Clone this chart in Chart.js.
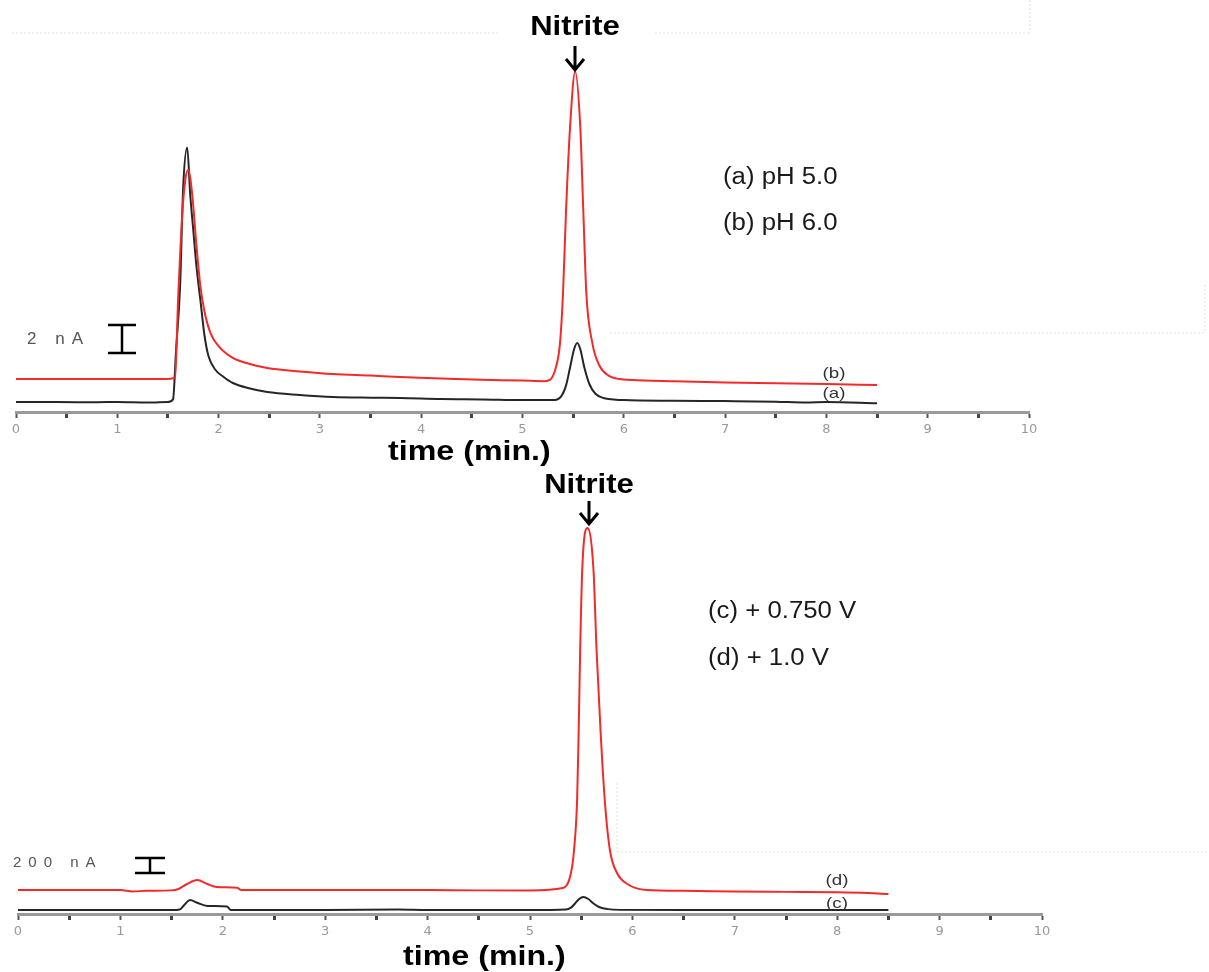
<!DOCTYPE html>
<html>
<head>
<meta charset="utf-8">
<title>Nitrite chromatograms</title>
<script src="https://cdn.jsdelivr.net/npm/chart.js@4.4.1/dist/chart.umd.min.js"></script>
<style>
    html, body { margin: 0; padding: 0; background: #fff; }
    #page { position: relative; width: 1209px; height: 972px; overflow: hidden; }
    .panel { position: absolute; left: 0; width: 1209px; }
    #topPanel { top: 0; height: 470px; }
    #bottomPanel { top: 470px; height: 502px; }
</style>
</head>
<body>
<div id="page">
    <div class="panel" id="topPanel"><canvas id="topChart" width="1209" height="470"></canvas></div>
    <div class="panel" id="bottomPanel"><canvas id="bottomChart" width="1209" height="502"></canvas></div>
</div>
<script>
/**
 * Two chromatograms (current vs. time), nitrite peak near 5.5 min.
 * Top: pH 5.0 / pH 6.0, bottom: +0.750 V / +1.0 V.
 */

// ---- data (time in min., current in nA) ----
const xTicks = [0, 1, 2, 3, 4, 5, 6, 7, 8, 9, 10];

// (a) pH 5.0
const timeA = [0, 0.4, 0.8, 1.0, 1.3, 1.5, 1.55, 1.58, 1.62, 1.65, 1.69, 1.72, 1.75, 1.78, 1.82, 1.86,
    1.9, 1.97, 2.05, 2.14, 2.3, 2.48, 2.8, 3.13, 3.5, 3.79, 4.2, 4.6, 5.0, 5.3, 5.38, 5.43, 5.47, 5.51,
    5.54, 5.57, 5.61, 5.66, 5.72, 5.8, 5.9, 6.0, 6.5, 7.0, 7.5, 7.8, 8.0, 8.5];
const currentA = [0.71, 0.71, 0.7, 0.72, 0.68, 0.72, 0.9, 4.4, 9.0, 16.0, 18.9, 15.5, 13.0, 10.5, 8.0, 5.5,
    4.0, 3.0, 2.5, 2.07, 1.7, 1.43, 1.22, 1.07, 1.02, 1.0, 0.92, 0.9, 0.85, 0.85, 1.1, 1.9, 3.2, 4.5,
    4.93, 4.5, 3.2, 2.0, 1.3, 1.0, 0.9, 0.85, 0.8, 0.78, 0.74, 0.68, 0.72, 0.62];

// (b) pH 6.0
const timeB = [0, 0.4, 0.8, 1.2, 1.5, 1.57, 1.6, 1.64, 1.67, 1.70, 1.74, 1.78, 1.82, 1.86, 1.92, 2.0,
    2.14, 2.3, 2.48, 2.8, 3.13, 3.5, 3.79, 4.2, 4.6, 5.0, 5.2, 5.27, 5.33, 5.37, 5.40, 5.43, 5.47, 5.52,
    5.57, 5.60, 5.63, 5.69, 5.76, 5.85, 5.96, 6.2, 6.5, 7.0, 7.5, 8.0, 8.5];
const currentB = [2.36, 2.36, 2.36, 2.36, 2.36, 2.45, 8.0, 14.0, 16.5, 17.3, 15.5, 12.0, 9.0, 7.2, 5.64, 4.7,
    3.86, 3.45, 3.14, 2.9, 2.71, 2.6, 2.5, 2.4, 2.3, 2.25, 2.2, 2.3, 3.2, 4.9, 8.5, 14.4, 20.4, 24.3,
    20.4, 14.4, 8.5, 4.9, 3.3, 2.6, 2.35, 2.25, 2.2, 2.1, 2.05, 2.0, 1.93];

// (c) +0.750 V
const timeC = [0, 1.0, 1.5, 1.58, 1.63, 1.68, 1.75, 1.85, 2.04, 2.08, 3.0, 3.72, 4.0, 5.0, 5.35, 5.40,
    5.44, 5.48, 5.52, 5.57, 5.62, 5.68, 5.76, 5.88, 6.5, 7.5, 8.5];
const currentC = [53, 53, 53, 60, 130, 187, 150, 107, 100, 53, 53, 60, 53, 53, 60, 85,
    140, 200, 227, 200, 140, 90, 65, 55, 53, 53, 53];

// (d) +1.0 V
const timeD = [0, 0.5, 1.0, 1.12, 1.25, 1.5, 1.56, 1.65, 1.75, 1.85, 1.94, 2.14, 2.18, 2.5, 3.0, 3.5,
    4.0, 4.5, 5.0, 5.32, 5.40, 5.43, 5.46, 5.475, 5.49, 5.51, 5.56, 5.62, 5.65, 5.69, 5.73, 5.78, 5.85,
    5.95, 6.14, 6.5, 7.0, 7.5, 8.0, 8.3, 8.5];
const currentD = [320, 320, 320, 300, 310, 315, 330, 400, 453, 400, 360, 350, 320, 320, 320, 320,
    320, 315, 315, 347, 547, 853, 1520, 2413, 3520, 4587, 5147, 4587, 3520, 2413, 1520, 853, 547,
    400, 320, 310, 300, 295, 290, 280, 267];

const RED = '#f42a2a';
const BLACK = '#262626';
const SANS = "'Liberation Sans', Arial, sans-serif";

/** Draws labels, arrows, scale bars and faint frame lines on top of a chart */
function notesPlugin(spec) {
    return {
        id: 'notes',
        beforeDraw(chart) {
            const ctx = chart.ctx;
            ctx.save();
            ctx.strokeStyle = '#eadede';
            ctx.lineWidth = 1;
            ctx.setLineDash([2, 2]);
            (spec.dotted || []).forEach(([x1, y1, x2, y2]) => {
                ctx.beginPath();
                ctx.moveTo(x1, y1);
                ctx.lineTo(x2, y2);
                ctx.stroke();
            });
            ctx.restore();
        },
        afterDraw(chart) {
            const ctx = chart.ctx;
            (spec.texts || []).forEach(t => {
                ctx.save();
                ctx.font = t.font;
                ctx.fillStyle = t.color || '#111';
                ctx.textAlign = t.align || 'left';
                ctx.textBaseline = 'middle';
                if (t.spacing && 'letterSpacing' in ctx) ctx.letterSpacing = t.spacing;
                ctx.translate(t.x, t.y);
                ctx.scale(t.stretch || 1, 1);
                ctx.fillText(t.text, 0, 0);
                ctx.restore();
            });
            (spec.arrows || []).forEach(a => {
                ctx.save();
                ctx.strokeStyle = '#000';
                ctx.lineWidth = 3;
                ctx.beginPath();
                ctx.moveTo(a.x, a.y1);
                ctx.lineTo(a.x, a.y2);
                ctx.moveTo(a.x - 9, a.y2 - 11);
                ctx.lineTo(a.x, a.y2);
                ctx.lineTo(a.x + 9, a.y2 - 11);
                ctx.stroke();
                ctx.restore();
            });
            (spec.bars || []).forEach(b => {
                ctx.save();
                ctx.strokeStyle = '#000';
                ctx.lineWidth = 2.5;
                ctx.beginPath();
                ctx.moveTo(b.x, b.y1);
                ctx.lineTo(b.x, b.y2);
                ctx.moveTo(b.x - b.hw, b.y1);
                ctx.lineTo(b.x + b.hw, b.y1);
                ctx.moveTo(b.x - b.hw, b.y2);
                ctx.lineTo(b.x + b.hw, b.y2);
                ctx.stroke();
                ctx.restore();
            });
        }
    };
}

function trace(times, values, color) {
    return {
        data: times.map((t, i) => ({ x: t, y: values[i] })),
        borderColor: color,
        borderWidth: 2,
        pointRadius: 0,
        fill: false,
        cubicInterpolationMode: 'monotone'
    };
}

function makeChromatogram(canvasId, datasets, cfg) {
    return new Chart(document.getElementById(canvasId), {
        type: 'line',
        data: { datasets: datasets },
        options: {
            responsive: false,
            animation: false,
            layout: { padding: cfg.padding },
            plugins: {
                legend: { display: false },
                tooltip: { enabled: false }
            },
            scales: {
                x: {
                    type: 'linear',
                    min: xTicks[0],
                    max: xTicks[xTicks.length - 1],
                    afterFit: scale => { scale.height = cfg.axisHeight; },
                    border: { color: '#9a9a9a', width: 3 },
                    grid: {
                        drawOnChartArea: false,
                        drawTicks: true,
                        tickLength: 6,
                        tickWidth: ctx => Number.isInteger(ctx.tick.value) ? 2 : 3,
                        tickColor: ctx => Number.isInteger(ctx.tick.value) ? '#555' : '#444'
                    },
                    ticks: {
                        stepSize: 0.5,
                        maxTicksLimit: 21,
                        autoSkip: false,
                        maxRotation: 0,
                        padding: 4,
                        color: '#999',
                        font: { family: "'DejaVu Sans', sans-serif", size: 13 },
                        callback: v => xTicks.includes(v) ? String(v) : ''
                    }
                },
                y: { display: false, min: 0, max: cfg.yMax }
            }
        },
        plugins: [notesPlugin(cfg.notes)]
    });
}

// Top panel: pH comparison
makeChromatogram('topChart', [
    trace(timeB, currentB, RED),
    trace(timeA, currentA, BLACK)
], {
    padding: { left: 16, right: 180, top: 48, bottom: 0 },
    axisHeight: 58,
    yMax: 26,
    notes: {
        dotted: [[12, 33, 500, 33], [655, 33, 1030, 33], [1030, 0, 1030, 33],
                 [610, 333, 1205, 333], [1205, 285, 1205, 333]],
        texts: [
            { text: 'Nitrite', x: 575, y: 28, font: `bold 27px ${SANS}`, align: 'center', stretch: 1.15, color: '#000' },
            { text: '(a) pH 5.0', x: 723, y: 178, font: `23px ${SANS}`, stretch: 1.12, color: '#1a1a1a' },
            { text: '(b) pH 6.0', x: 723, y: 224, font: `23px ${SANS}`, stretch: 1.12, color: '#1a1a1a' },
            { text: '(b)', x: 834, y: 374, font: `15px ${SANS}`, align: 'center', stretch: 1.25, color: '#333' },
            { text: '(a)', x: 834, y: 394, font: `15px ${SANS}`, align: 'center', stretch: 1.25, color: '#333' },
            { text: '2 nA', x: 27, y: 339, font: `17px ${SANS}`, spacing: '7px', color: '#555' },
            { text: 'time (min.)', x: 388, y: 452, font: `bold 28px ${SANS}`, stretch: 1.15, color: '#000' }
        ],
        arrows: [{ x: 575, y1: 46, y2: 70 }],
        bars: [{ x: 122, y1: 325, y2: 353, hw: 14 }]
    }
});

// Bottom panel: potential comparison
makeChromatogram('bottomChart', [
    trace(timeD, currentD, RED),
    trace(timeC, currentC, BLACK)
], {
    padding: { left: 18, right: 167, top: 39, bottom: 0 },
    axisHeight: 58,
    yMax: 5400,
    notes: {
        dotted: [[617, 382, 1209, 382], [617, 313, 617, 382]],
        texts: [
            { text: 'Nitrite', x: 589, y: 16, font: `bold 27px ${SANS}`, align: 'center', stretch: 1.15, color: '#000' },
            { text: '(c) + 0.750 V', x: 708, y: 142, font: `23px ${SANS}`, stretch: 1.12, color: '#1a1a1a' },
            { text: '(d) + 1.0 V', x: 708, y: 189, font: `23px ${SANS}`, stretch: 1.12, color: '#1a1a1a' },
            { text: '(d)', x: 837, y: 411, font: `15px ${SANS}`, align: 'center', stretch: 1.25, color: '#333' },
            { text: '(c)', x: 837, y: 434, font: `15px ${SANS}`, align: 'center', stretch: 1.25, color: '#333' },
            { text: '200 nA', x: 13, y: 393, font: `15px ${SANS}`, spacing: '7px', color: '#555' },
            { text: 'time (min.)', x: 403, y: 487, font: `bold 28px ${SANS}`, stretch: 1.15, color: '#000' }
        ],
        arrows: [{ x: 589, y1: 31, y2: 54 }],
        bars: [{ x: 150, y1: 388, y2: 403, hw: 15 }]
    }
});
</script>
</body>
</html>
